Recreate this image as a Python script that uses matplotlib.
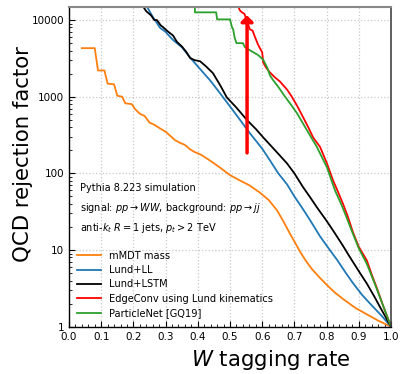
import matplotlib
matplotlib.use("Agg")
import matplotlib.pyplot as plt
from matplotlib.ticker import FixedLocator, FuncFormatter, LogLocator, NullFormatter, MultipleLocator

mmdt_x = [0.04, 0.08, 0.09, 0.11, 0.12, 0.14, 0.15, 0.165, 0.175, 0.195, 0.205, 0.22, 0.235, 0.25, 0.265, 0.283, 0.3, 0.314, 0.33, 0.345, 0.36, 0.376, 0.39, 0.41, 0.44, 0.47, 0.5, 0.53, 0.56, 0.593, 0.62, 0.646, 0.665, 0.686, 0.702, 0.717, 0.735, 0.755, 0.78, 0.801, 0.825, 0.851, 0.89, 0.925, 0.96, 1.0]
mmdt_y = [4300, 4300, 2200, 2200, 1480, 1450, 1030, 1000, 820, 800, 690, 600, 560, 460, 430, 385, 350, 310, 270, 250, 235, 206, 190, 175, 145, 118, 95, 81, 70, 56, 45, 33, 24, 16.4, 12.5, 9.6, 7.3, 5.6, 4.3, 3.5, 2.8, 2.3, 1.75, 1.45, 1.2, 1.0]

ll_x = [0.24, 0.26, 0.283, 0.3, 0.323, 0.351, 0.38, 0.407, 0.44, 0.469, 0.509, 0.562, 0.6, 0.624, 0.65, 0.677, 0.7, 0.727, 0.75, 0.78, 0.81, 0.832, 0.86, 0.882, 0.91, 0.935, 0.97, 1.0]
ll_y = [15500, 11000, 7900, 7000, 5500, 4400, 3100, 2300, 1600, 1110, 665, 333, 210, 148, 100, 72, 50, 34, 24, 15, 10, 7.5, 5, 3.7, 2.6, 2.0, 1.4, 1.0]

lstm_x = [0.228, 0.24, 0.255, 0.265, 0.273, 0.285, 0.292, 0.305, 0.323, 0.335, 0.351, 0.365, 0.376, 0.39, 0.407, 0.425, 0.447, 0.47, 0.49, 0.52, 0.553, 0.58, 0.603, 0.64, 0.677, 0.7, 0.727, 0.75, 0.77, 0.8, 0.82, 0.85, 0.873, 0.9, 0.925, 0.95, 0.966, 1.0]
lstm_y = [15500, 13000, 11500, 10000, 10000, 8500, 8100, 7200, 6300, 5200, 4500, 3800, 3200, 3000, 2900, 2500, 2030, 1400, 980, 720, 495, 380, 295, 200, 135, 100, 66, 48, 36, 24, 18, 11.5, 8, 5.3, 3.65, 2.4, 1.8, 1.0]

edge_x = [0.525, 0.53, 0.535, 0.545, 0.553, 0.562, 0.57, 0.578, 0.587, 0.6, 0.603, 0.612, 0.624, 0.64, 0.655, 0.677, 0.692, 0.71, 0.727, 0.743, 0.758, 0.78, 0.801, 0.82, 0.832, 0.851, 0.865, 0.882, 0.9, 0.925, 0.94, 0.956, 0.975, 1.0]
edge_y = [15500, 13500, 12800, 12000, 9500, 7550, 7300, 5950, 4790, 3790, 2800, 2400, 2070, 1780, 1580, 1240, 1000, 740, 540, 400, 295, 220, 135, 81, 62, 40, 28, 17, 11, 7.3, 4.8, 3.2, 1.9, 1.0]

pnet_x = [0.391, 0.391, 0.457, 0.46, 0.5, 0.506, 0.51, 0.514, 0.52, 0.54, 0.547, 0.562, 0.587, 0.603, 0.615, 0.624, 0.634, 0.649, 0.671, 0.69, 0.708, 0.739, 0.77, 0.801, 0.826, 0.845, 0.86, 0.88, 0.9, 0.925, 0.95, 0.975, 1.0]
pnet_y = [15500, 12600, 12600, 10200, 10200, 8100, 7500, 6000, 5000, 5000, 4400, 4030, 3500, 3040, 2430, 1900, 1640, 1360, 1000, 780, 610, 365, 220, 120, 60, 40, 28, 17, 10.5, 6.6, 3.6, 1.9, 1.0]

labels = ["mMDT mass", "Lund+LL", "Lund+LSTM", "EdgeConv using Lund kinematics", "ParticleNet [GQ19]"]
colors = ["#ff7f0e", "#1f77b4", "black", "#ff0000", "#2ca02c"]

arrow_x = 0.553
arrow_y0, arrow_y1 = 170, 12500

x_ticks = [0.0, 0.1, 0.2, 0.3, 0.4, 0.5, 0.6, 0.7, 0.8, 0.9, 1.0]
y_ticks = [1, 10, 100, 1000, 10000]

fig = plt.figure(figsize=(4.0, 3.74), dpi=100)
ax = fig.add_axes([0.1725, 0.1265, 0.805, 0.856])

series = [(mmdt_x, mmdt_y), (ll_x, ll_y), (lstm_x, lstm_y), (edge_x, edge_y), (pnet_x, pnet_y)]
for (xs, ys), lab, c in zip(series, labels, colors):
    ax.plot(xs, ys, color=c, lw=1.3, label=lab)

ax.annotate('', xy=(arrow_x, arrow_y1), xytext=(arrow_x, arrow_y0),
            arrowprops=dict(arrowstyle='-|>,head_width=0.35,head_length=0.35', color='red', lw=2.5))

ax.set_yscale('log')
ax.set_xlim(0, 1)
ax.set_ylim(1, 15000)
ax.set_xticks(x_ticks)
ax.set_xticklabels([f"{v:.1f}" for v in x_ticks])
ax.xaxis.set_minor_locator(MultipleLocator(0.02))
ax.yaxis.set_major_locator(FixedLocator(y_ticks))
ax.yaxis.set_major_formatter(FuncFormatter(lambda v, p: f"{int(round(v))}"))
ax.yaxis.set_minor_locator(LogLocator(base=10, subs=range(2, 10)))
ax.yaxis.set_minor_formatter(NullFormatter())
ax.tick_params(which='both', direction='in', labelsize=7.5, top=False, right=False)
ax.tick_params(which='major', length=4, width=0.8)
ax.tick_params(which='minor', length=2, width=0.6)
ax.grid(True, which='major', color='#c8c8c8', linestyle=':', linewidth=0.9)

ax.spines['top'].set_color('#888888')
ax.spines['top'].set_linewidth(1.5)
ax.spines['right'].set_color('#444444')
ax.spines['right'].set_linewidth(1.2)
ax.spines['left'].set_linewidth(1.0)
ax.spines['bottom'].set_linewidth(1.0)

ax.set_xlabel("$W$ tagging rate", fontsize=15.3)
ax.xaxis.set_label_coords(0.627, -0.068)
ax.set_ylabel("QCD rejection factor", fontsize=15.3)
ax.yaxis.set_label_coords(-0.112, 0.54)

tfs = 7.0
ax.text(0.034, 0.433, "Pythia 8.223 simulation", transform=ax.transAxes, fontsize=tfs, va='center')
ax.text(0.034, 0.371, r"signal: $pp \rightarrow WW$, background: $pp \rightarrow jj$", transform=ax.transAxes, fontsize=tfs, va='center')
ax.text(0.034, 0.309, r"anti-$k_t$ $R = 1$ jets, $p_t > 2$ TeV", transform=ax.transAxes, fontsize=tfs, va='center')

ax.legend(loc='lower left', bbox_to_anchor=(0.0, 0.0), frameon=False, fontsize=7.1,
          handlelength=2.4, handletextpad=0.8, labelspacing=0.45, borderpad=0.35)

fig.savefig("out.png", dpi=100)
